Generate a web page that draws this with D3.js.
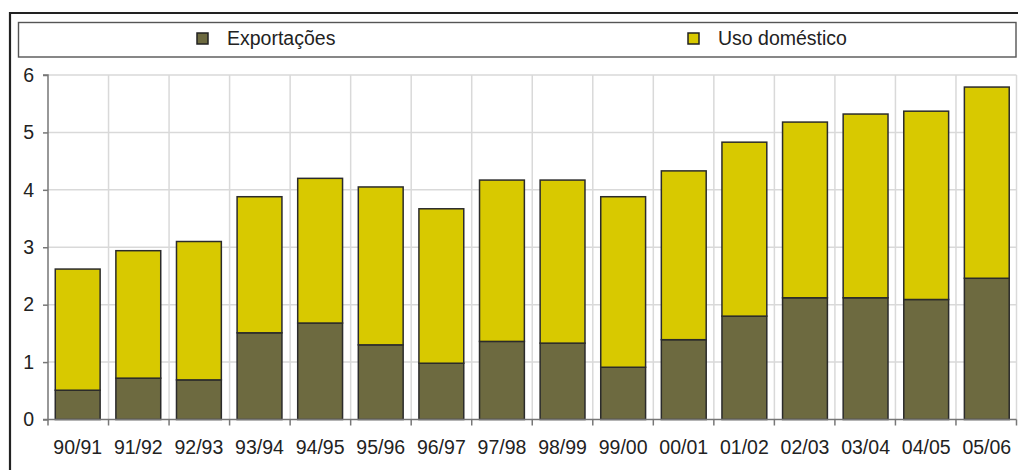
<!DOCTYPE html>
<html>
<head>
<meta charset="utf-8">
<script src="https://cdn.jsdelivr.net/npm/d3@7"></script>
<style>
  html, body { margin: 0; padding: 0; background: #fff; }
  svg { display: block; font-family: "Liberation Sans", Arial, Helvetica, sans-serif; }
</style>
</head>
<body>
<svg id="chart" width="1018" height="470"></svg>
<script>
const categories = ["90/91","91/92","92/93","93/94","94/95","95/96","96/97","97/98","98/99","99/00","00/01","01/02","02/03","03/04","04/05","05/06"];
const exportacoes = [0.51, 0.72, 0.69, 1.51, 1.68, 1.30, 0.98, 1.36, 1.33, 0.91, 1.39, 1.80, 2.12, 2.12, 2.09, 2.46];
const usoDomestico = [2.11, 2.22, 2.41, 2.37, 2.52, 2.75, 2.69, 2.81, 2.84, 2.97, 2.94, 3.03, 3.06, 3.20, 3.28, 3.33];
const seriesNames = ["Exportações", "Uso doméstico"];
const yTicks = [0, 1, 2, 3, 4, 5, 6];

const colors = { "Exportações": "#6d6a40", "Uso doméstico": "#d8c900" };

const svg = d3.select("#chart");
const W = 1018, H = 470;
const pLeft = 48, pRight = 1016.5, pTop = 75, pBottom = 419.5;

// outer frame
svg.append("line").attr("x1", 9).attr("x2", W).attr("y1", 13).attr("y2", 13)
  .attr("stroke", "#222").attr("stroke-width", 2.2);
svg.append("line").attr("x1", 10).attr("x2", 10).attr("y1", 12).attr("y2", H)
  .attr("stroke", "#222").attr("stroke-width", 2.2);

// legend box
svg.append("rect").attr("x", 18.5).attr("y", 22.5).attr("width", 997.5).attr("height", 34.5)
  .attr("fill", "#fff").attr("stroke", "#555").attr("stroke-width", 1.4);

const legendItems = [
  { name: seriesNames[0], sx: 197, tx: 227 },
  { name: seriesNames[1], sx: 688, tx: 718 }
];
const lg = svg.append("g");
legendItems.forEach(d => {
  lg.append("rect").attr("x", d.sx).attr("y", 33).attr("width", 11).attr("height", 11)
    .attr("fill", colors[d.name]).attr("stroke", "#222").attr("stroke-width", 1.5);
  lg.append("text").attr("x", d.tx).attr("y", 38.5).attr("dy", "0.35em")
    .attr("font-size", "19.5px").attr("fill", "#222").text(d.name);
});

const x = d3.scaleBand().domain(categories).range([pLeft, pRight]).paddingInner(0.26).paddingOuter(0.12);
const y = d3.scaleLinear().domain([0, 6]).range([pBottom, pTop]);

// gridlines
const boundaries = d3.range(categories.length + 1).map(i => pLeft + i * (pRight - pLeft) / categories.length);
svg.append("g").selectAll("line").data(yTicks.filter(t => t > 0)).join("line")
  .attr("x1", pLeft).attr("x2", pRight).attr("y1", d => y(d)).attr("y2", d => y(d))
  .attr("stroke", "#d9d9d9").attr("stroke-width", 1.5);
svg.append("g").selectAll("line").data(boundaries.slice(1)).join("line")
  .attr("x1", d => d).attr("x2", d => d).attr("y1", pTop).attr("y2", pBottom)
  .attr("stroke", "#d9d9d9").attr("stroke-width", 1.5);

// stacked bars
const rows = categories.map((c, i) => ({ cat: c, "Exportações": exportacoes[i], "Uso doméstico": usoDomestico[i] }));
const stacked = d3.stack().keys(seriesNames)(rows);
svg.append("g").selectAll("g").data(stacked).join("g")
  .attr("fill", d => colors[d.key])
  .selectAll("rect").data(d => d).join("rect")
  .attr("x", d => x(d.data.cat))
  .attr("y", d => y(d[1]))
  .attr("width", x.bandwidth())
  .attr("height", d => y(d[0]) - y(d[1]))
  .attr("stroke", "#2b2b2b").attr("stroke-width", 1.5);

// y axis
const yAxis = svg.append("g").attr("transform", `translate(${pLeft},0)`)
  .call(d3.axisLeft(y).tickValues(yTicks).tickSize(5).tickPadding(9).tickFormat(d3.format("d")))
  .attr("font-family", null).attr("font-size", null);
yAxis.select(".domain").attr("stroke", "#777").attr("stroke-width", 1.5).attr("d", `M-5,${pTop}H0V${pBottom}H-5`);
yAxis.selectAll(".tick line").attr("stroke", "#777").attr("stroke-width", 1.5);
yAxis.selectAll("text").attr("font-size", "19.5px").attr("fill", "#222");

// x axis
const xAxis = svg.append("g").attr("transform", `translate(0,${pBottom})`)
  .call(d3.axisBottom(x).tickSize(0).tickPadding(21))
  .attr("font-family", null).attr("font-size", null);
xAxis.select(".domain").attr("stroke", "#777").attr("stroke-width", 1.5).attr("d", `M${pLeft},0H${pRight}`);
xAxis.selectAll("text").attr("font-size", "19.5px").attr("fill", "#222");
svg.append("g").selectAll("line").data(boundaries).join("line")
  .attr("x1", d => d).attr("x2", d => d).attr("y1", pBottom).attr("y2", pBottom + 6)
  .attr("stroke", "#777").attr("stroke-width", 1.5);
</script>
</body>
</html>
